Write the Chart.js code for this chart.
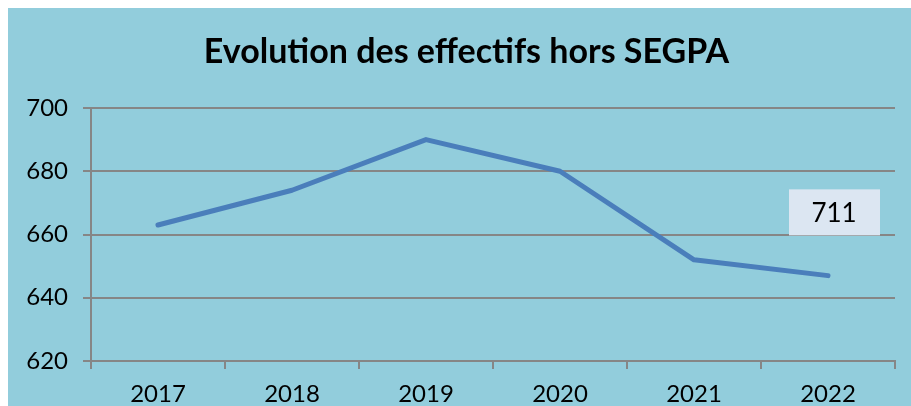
<!DOCTYPE html>
<html>
<head>
<meta charset="utf-8">
<script src="https://cdn.jsdelivr.net/npm/chart.js@4"></script>
<style>
  body { margin: 0; background: #fff; }
  #wrap { position: absolute; left: 8px; top: 8px; width: 903px; height: 398px; background: #92cddc; }
</style>
</head>
<body>
<div id="wrap"><canvas id="myChart" width="903" height="398"></canvas></div>
<script>
const labels = ['2017', '2018', '2019', '2020', '2021', '2022'];
const effectifs = [663, 674, 690, 680, 652, 647];
const yTicks = [620, 640, 660, 680, 700];
const titleText = 'Evolution des effectifs hors SEGPA';
const noteText = '711';
const notePos = [5, 667];

const grey = '#868686';

// title, a bit right of the canvas centre like the original
const titlePlugin = {
  id: 'titleText',
  afterDraw(chart) {
    const ctx = chart.ctx;
    ctx.save();
    ctx.fillStyle = '#000';
    ctx.font = 'bold 34px Lato';
    ctx.textAlign = 'center';
    ctx.textBaseline = 'middle';
    ctx.fillText(titleText, chart.width / 2 + 7, 44);
    ctx.restore();
  }
};

// text box "711" drawn next to the last point
const notePlugin = {
  id: 'note',
  afterDatasetsDraw(chart) {
    const ctx = chart.ctx;
    const cx = chart.scales.x.getPixelForValue(notePos[0]) + 6;
    const cy = chart.scales.y.getPixelForValue(notePos[1]);
    ctx.save();
    ctx.fillStyle = '#dce6f2';
    ctx.fillRect(cx - 45, cy - 23, 91, 46);
    ctx.fillStyle = '#000';
    ctx.font = '26px Lato';
    ctx.textAlign = 'center';
    ctx.textBaseline = 'middle';
    ctx.fillText(noteText, cx, cy + 1);
    ctx.restore();
  }
};

const config = {
  type: 'line',
  data: {
    labels: labels,
    datasets: [{
      label: 'Effectifs',
      data: effectifs,
      borderColor: '#4a7ebb',
      backgroundColor: '#4a7ebb',
      borderWidth: 5,
      borderCapStyle: 'round',
      borderJoinStyle: 'round',
      pointRadius: 0,
      tension: 0
    }]
  },
  options: {
    responsive: false,
    animation: false,
    layout: { padding: { left: 0, right: 16, top: 100, bottom: 0 } },
    plugins: {
      legend: { display: false },
      tooltip: { enabled: false },
      title: { display: false }
    },
    scales: {
      x: {
        offset: true,
        afterFit(scale) { scale.height = 45; },
        grid: { offset: true, drawOnChartArea: false, color: grey, lineWidth: 2, tickLength: 8 },
        border: { color: grey, width: 2 },
        ticks: { color: '#000', font: { family: 'Lato', size: 24, lineHeight: 1.2 }, padding: 11, maxRotation: 0 }
      },
      y: {
        min: 620,
        max: 700,
        afterBuildTicks(scale) { scale.ticks = yTicks.map(v => ({ value: v })); },
        afterFit(scale) { scale.width = 83; },
        grid: { color: grey, lineWidth: 2, tickLength: 8 },
        border: { color: grey, width: 2 },
        ticks: { color: '#000', font: { family: 'Lato', size: 24 }, padding: 15 }
      }
    }
  },
  plugins: [notePlugin, titlePlugin]
};

new Chart(document.getElementById('myChart'), config);
</script>
</body>
</html>
